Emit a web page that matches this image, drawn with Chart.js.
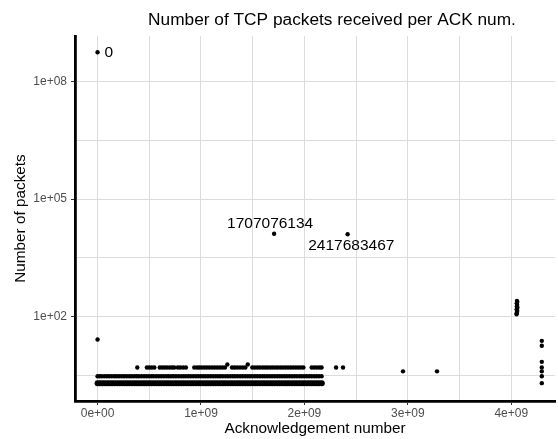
<!DOCTYPE html>
<html>
<head>
<meta charset="utf-8">
<script src="https://cdn.jsdelivr.net/npm/chart.js@4.4.1/dist/chart.umd.min.js"></script>
<style>
  html, body { margin: 0; padding: 0; background: #ffffff; }
  canvas { display: block; }
</style>
</head>
<body>
<canvas id="ackChart" width="558" height="439"></canvas>
<script>
// Texts
const chartTitle = 'Number of TCP packets received per ACK num.';
const xAxisTitle = 'Acknowledgement number';
const yAxisTitle = 'Number of packets';

// Axis breaks
const xTickValues = [0, 1e9, 2e9, 3e9, 4e9];
const xTickLabels = ['0e+00', '1e+09', '2e+09', '3e+09', '4e+09'];
const xMinorValues = [5e8, 1.5e9, 2.5e9, 3.5e9];
const yTickValues = [1e2, 1e5, 1e8];
const yTickLabels = ['1e+02', '1e+05', '1e+08'];
const yMinorValues = [3.162, 3162, 3162278];

// ACK numbers (in millions) seen with 2, 3, 4, 5 and 6 packets
const rowTwoAcks = [0, 21, 45, 68, 93, 117, 140, 164, 189, 212, 236, 261, 284, 307, 332, 356, 379, 403, 428, 451,
  474, 499, 522, 546, 571, 594, 617, 642, 666, 689, 713, 738, 761, 785, 809, 832, 856, 881, 904, 927, 952, 976,
  999, 1023, 1048, 1071, 1095, 1119, 1142, 1166, 1191, 1214, 1237, 1262, 1286, 1309, 1333, 1358, 1381, 1405,
  1429, 1452, 1476, 1501, 1524, 1547, 1572, 1596, 1619, 1643, 1668, 1691, 1715, 1739, 1762, 1786, 1811, 1834,
  1857, 1882, 1906, 1929, 1953, 1978, 2001, 2025, 2049, 2072, 2096, 2121, 2144, 2168];
const rowThreeAcks = [0, 19, 42, 66, 91, 114, 138, 163, 186, 210, 235, 258, 282, 306, 329, 353, 378, 401, 425, 449,
  472, 496, 521, 544, 568, 592, 615, 639, 664, 687, 711, 735, 758, 782, 807, 830, 854, 878, 901, 925, 950, 973,
  997, 1021, 1044, 1068, 1093, 1116, 1140, 1164, 1187, 1211, 1236, 1259, 1283, 1307, 1330, 1354, 1379, 1402,
  1426, 1450, 1473, 1497, 1522, 1545, 1569, 1593, 1616, 1640, 1665, 1688, 1712, 1736, 1759, 1783, 1808, 1831,
  1855, 1879, 1902, 1926, 1951, 1974, 1998, 2022, 2045, 2069, 2094, 2117, 2141, 2166];
const rowFourAcks = [2953, 3282];
const rowFiveAcks = [384, 477, 500, 524, 549, 601, 624, 648, 672, 697, 720, 741, 776, 800, 827, 854, 935, 962,
  984, 1008, 1033, 1057, 1082, 1108, 1132, 1157, 1183, 1207, 1232, 1300, 1324, 1349, 1377, 1404, 1429, 1496,
  1520, 1545, 1569, 1596, 1620, 1644, 1670, 1694, 1719, 1743, 1768, 1793, 1818, 1842, 1867, 1891, 1917, 1941,
  1966, 1990, 2070, 2095, 2120, 2145, 2166, 2306, 2373];
const rowSixAcks = [1255, 1452];

// Group near 4.05e9 (ACK in millions, packet count)
const clusterAcks = [4051, 4053, 4055, 4057, 4052, 4059, 4054, 4056, 4053, 4058, 4055];
const clusterCounts = [114, 122, 131, 142, 155, 168, 183, 200, 218, 238, 252];

// Highest ACK value column
const edgeAck = 4294967295;
const edgeCounts = [24, 18, 7, 5, 4, 3, 2];

// Other single points
const otherAcks = [0];
const otherCounts = [26];

// Labelled points
const labelAcks = [0, 1707076134, 2417683467];
const labelCounts = [560000000, 13000, 12700];
const labelTexts = ['0', '1707076134', '2417683467'];

const FONT = "'Liberation Sans', Arial, Helvetica, sans-serif";
Chart.defaults.font.family = FONT;

const inMillions = (acks, count) => acks.map(a => ({ x: a * 1e6, y: count }));

const dotStyle = {
    backgroundColor: '#000000',
    borderWidth: 0,
    pointRadius: 2.2,
    pointHoverRadius: 2.2
};

const datasets = [
    { data: inMillions(rowTwoAcks, 2), ...dotStyle, pointRadius: 3 },
    { data: inMillions(rowThreeAcks, 3), ...dotStyle },
    { data: inMillions(rowFourAcks, 4), ...dotStyle },
    { data: inMillions(rowFiveAcks, 5), ...dotStyle },
    { data: inMillions(rowSixAcks, 6), ...dotStyle },
    { data: clusterAcks.map((a, i) => ({ x: a * 1e6, y: clusterCounts[i] })), ...dotStyle },
    { data: edgeCounts.map(c => ({ x: edgeAck, y: c })), ...dotStyle },
    { data: otherAcks.map((a, i) => ({ x: a, y: otherCounts[i] })), ...dotStyle },
    { data: labelAcks.map((a, i) => ({ x: a, y: labelCounts[i] })), ...dotStyle }
];

const makeTicks = (values, labels, minors) =>
    values.map((v, i) => ({ value: v, lbl: labels[i] }))
        .concat(minors.map(v => ({ value: v, lbl: '' })))
        .sort((a, b) => a.value - b.value);

// ggrepel-like text next to the labelled points: [dx, dy, align]
const labelNudges = [[7, 0.5, 'left'], [-4, -10, 'center'], [3.7, 12, 'center']];

const textPlugin = {
    id: 'ggText',
    afterDraw(chart) {
        const { ctx, scales, chartArea } = chart;
        ctx.save();
        ctx.fillStyle = '#000000';

        // title, centred over the (wider, cropped) panel
        ctx.font = '17.3px ' + FONT;
        ctx.textAlign = 'center';
        ctx.textBaseline = 'alphabetic';
        ctx.fillText(chartTitle, chartArea.left + 257, 24.5);

        // point labels
        ctx.font = '15.5px ' + FONT;
        ctx.textBaseline = 'middle';
        labelTexts.forEach((t, i) => {
            const px = scales.x.getPixelForValue(labelAcks[i]);
            const py = scales.y.getPixelForValue(labelCounts[i]);
            const [dx, dy, align] = labelNudges[i];
            ctx.textAlign = align;
            ctx.fillText(t, px + dx, py + dy);
        });
        ctx.restore();
    }
};

const tickMarkColor = c => (c.tick && c.tick.lbl ? '#333333' : 'rgba(0,0,0,0)');

new Chart(document.getElementById('ackChart'), {
    type: 'scatter',
    data: { datasets },
    options: {
        responsive: false,
        devicePixelRatio: 1,
        animation: false,
        layout: { padding: { top: 36, right: 0, bottom: 0, left: 0 } },
        plugins: {
            legend: { display: false },
            tooltip: { enabled: false },
            title: { display: false }
        },
        scales: {
            x: {
                type: 'linear',
                position: 'bottom',
                min: -0.2181e9,
                max: 4.4226e9,
                afterFit: s => { s.height = 38; },
                afterBuildTicks: s => { s.ticks = makeTicks(xTickValues, xTickLabels, xMinorValues); },
                ticks: {
                    autoSkip: false,
                    maxRotation: 0,
                    padding: 1.5,
                    color: '#4d4d4d',
                    font: { size: 12 },
                    callback: (v, i, ts) => ts[i].lbl
                },
                grid: {
                    color: '#dcdcdc',
                    lineWidth: 1,
                    tickLength: 4,
                    tickColor: tickMarkColor
                },
                border: { display: true, color: '#000000', width: 2.8 },
                title: {
                    display: true,
                    text: xAxisTitle,
                    color: '#000000',
                    font: { size: 15.3 },
                    padding: { top: 0, bottom: 1.5 }
                }
            },
            y: {
                type: 'logarithmic',
                min: 0.739,
                max: 1.458e9,
                afterFit: s => { s.width = 75; },
                afterBuildTicks: s => { s.ticks = makeTicks(yTickValues, yTickLabels, yMinorValues); },
                ticks: {
                    autoSkip: false,
                    padding: 4,
                    color: '#4d4d4d',
                    font: { size: 12 },
                    callback: (v, i, ts) => ts[i].lbl
                },
                grid: {
                    color: '#dcdcdc',
                    lineWidth: 1,
                    tickLength: 4,
                    tickColor: tickMarkColor
                },
                border: { display: true, color: '#000000', width: 2.8 },
                title: {
                    display: true,
                    text: yAxisTitle,
                    color: '#000000',
                    font: { size: 15.3 },
                    padding: { top: 11.5, bottom: 0 }
                }
            }
        }
    },
    plugins: [textPlugin]
});
</script>
</body>
</html>
